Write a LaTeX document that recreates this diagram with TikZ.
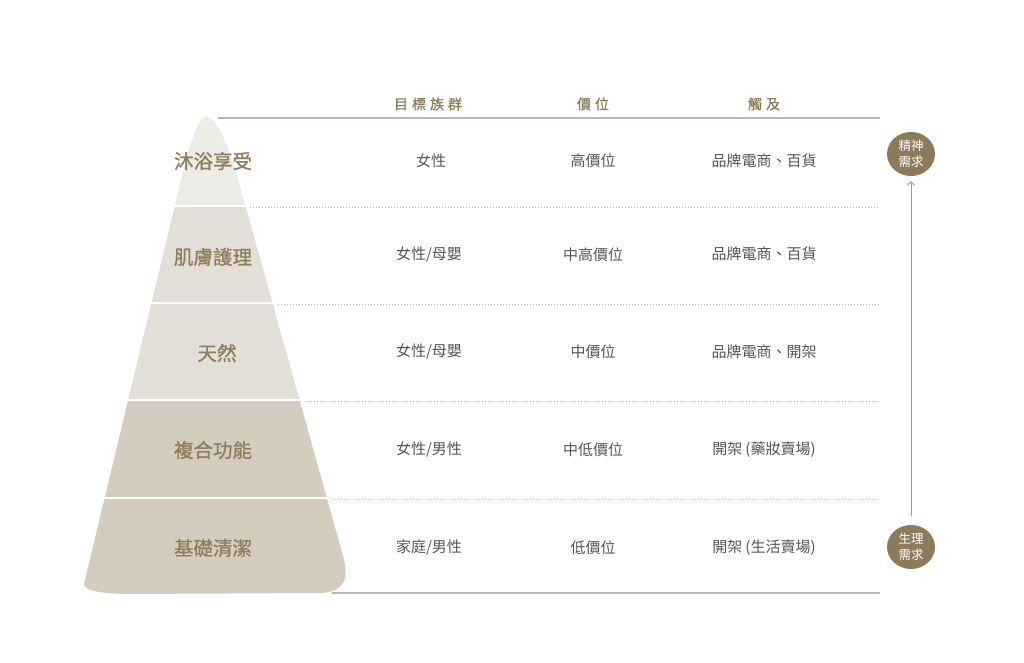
\documentclass[tikz,border=0pt]{standalone}
\usepackage{fontspec}
\newfontfamily\cjk{Noto Sans CJK TC}
\usetikzlibrary{shapes.geometric,arrows.meta}
\definecolor{topc}{HTML}{EDEBE6}
\definecolor{midc}{HTML}{E3DFD8}
\definecolor{botc}{HTML}{D4CCBF}
\definecolor{brown}{HTML}{8C7B5A}
\definecolor{labc}{HTML}{8F7E5D}
\definecolor{txtc}{HTML}{555555}
\definecolor{rulec}{HTML}{BDB6AA}
\definecolor{dotc}{HTML}{C6BCAD}
\definecolor{arrc}{HTML}{9C9C9C}
\tikzset{
  head/.style={font=\cjk\fontsize{14}{16}\selectfont\addfontfeature{FakeBold=0.6}, text=brown, inner sep=0pt},
  cell/.style={font=\cjk\fontsize{15}{17}\selectfont, text=txtc, inner sep=0pt},
  lvl/.style={font=\cjk\fontsize{19.5}{22}\selectfont\addfontfeature{FakeBold=1}, text=labc, inner sep=0pt},
  need/.style={ellipse, fill=brown, minimum width=48pt, minimum height=44pt, inner sep=0pt,
    text=white, align=center, font=\cjk\fontsize{12.5}{16}\selectfont},
  rowline/.style={dotc, line width=1pt, dash pattern=on 1pt off 2pt},
  solidrule/.style={rulec, line width=1.6pt},
  sep/.style={white, line width=2pt}
}
\begin{document}
\begin{tikzpicture}[x=1pt,y=-1pt]
\useasboundingbox (0,0) rectangle (1024,662);
\def\pyr{(84,584) -- (181,180) .. controls (191,140) and (198,117) .. (207,117)
  .. controls (216,117) and (227,142) .. (236,172) -- (343,556)
  .. controls (349,577) and (346,591) .. (322,593) -- (125,594)
  .. controls (96,593) and (84,590) .. (84,584) -- cycle}
\begin{scope}
  \clip \pyr;
  \fill[topc] (60,100) rectangle (380,206);
  \fill[midc] (60,206) rectangle (380,400);
  \fill[botc] (60,400) rectangle (380,620);
  \draw[sep] (60,206) -- (380,206);
  \draw[sep] (60,303) -- (380,303);
  \draw[sep] (60,400) -- (380,400);
  \draw[sep] (60,498) -- (380,498);
\end{scope}
% rules
\coordinate (t0) at (218,118); \coordinate (t1) at (880,118);
\coordinate (b0) at (332,593); \coordinate (b1) at (880,593);
\draw[solidrule] (t0) -- (t1);
\draw[solidrule] (b0) -- (b1);
\coordinate (r1a) at (250,207); \coordinate (r1b) at (880,207);
\coordinate (r2a) at (278,304); \coordinate (r2b) at (880,304);
\coordinate (r3a) at (305,401); \coordinate (r3b) at (880,401);
\coordinate (r4a) at (332,499); \coordinate (r4b) at (880,499);
\draw[rowline] (r1a) -- (r1b);
\draw[rowline] (r2a) -- (r2b);
\draw[rowline] (r3a) -- (r3b);
\draw[rowline] (r4a) -- (r4b);
% headers
\node[head] (h1) at (428,104) {目\kern4pt 標\kern4pt 族\kern4pt 群};
\node[head] (h2) at (593,104) {價\kern4pt 位};
\node[head] (h3) at (764,104) {觸\kern4pt 及};
% level labels
\node[lvl] (l1) at (213,161) {沐浴享受};
\node[lvl] (l2) at (213,257) {肌膚護理};
\node[lvl] (l3) at (217,353) {天然};
\node[lvl] (l4) at (213,450) {複合功能};
\node[lvl] (l5) at (213,548) {基礎清潔};
% cells
\node[cell] (a1) at (431,161) {女性};
\node[cell] (a2) at (429,254) {女性/母嬰};
\node[cell] (a3) at (429,351) {女性/母嬰};
\node[cell] (a4) at (429,449) {女性/男性};
\node[cell] (a5) at (429,547) {家庭/男性};
\node[cell] (p1) at (593,161) {高價位};
\node[cell] (p2) at (593,255) {中高價位};
\node[cell] (p3) at (593,352) {中價位};
\node[cell] (p4) at (593,450) {中低價位};
\node[cell] (p5) at (593,548) {低價位};
\node[cell] (c1) at (764,161) {品牌電商、百貨};
\node[cell] (c2) at (764,254) {品牌電商、百貨};
\node[cell] (c3) at (764,352) {品牌電商、開架};
\node[cell] (c4) at (764,450) {開架\kern3pt(藥妝賣場)};
\node[cell] (c5) at (764,548) {開架\kern3pt(生活賣場)};
% needs
\node[need] (spirit) at (911,154) {精神\\需求};
\node[need] (body) at (911,547) {生理\\需求};
\draw[arrc, line width=0.9pt, -{Straight Barb[length=3.5pt,width=7pt]},
  shorten <=9pt, shorten >=5pt] (body) -- (spirit);
\end{tikzpicture}
\end{document}
